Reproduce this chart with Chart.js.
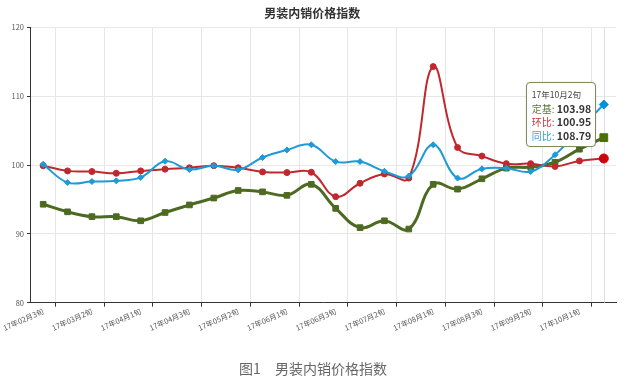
<!DOCTYPE html>
<html>
<head>
<meta charset="utf-8">
<script src="https://cdn.jsdelivr.net/npm/chart.js@4/dist/chart.umd.min.js"></script>
<style>
html,body{margin:0;padding:0;background:#fff;}
#wrap{position:relative;width:626px;height:381px;overflow:hidden;background:#fff;}
#c{position:absolute;left:0;top:0;}
#cap{position:absolute;left:0;width:626px;top:359px;text-align:center;font-family:"Noto Sans CJK SC",sans-serif;font-size:14px;line-height:18px;color:#666;}
#tip{position:absolute;display:none;background:#fff;border:1.5px solid #7d8c58;border-radius:4px;padding:5px 4px 5px 5px;font-family:"Noto Sans CJK SC",sans-serif;white-space:nowrap;box-shadow:0 0 2px rgba(0,0,0,0.12);}
#tip .tt{font-size:8.5px;line-height:13px;color:#444;}
#tip .row{line-height:11.5px;}
#tip .row span{font-size:10px;}
#tip .row b{font-size:10.5px;font-weight:bold;color:#333;}
</style>
</head>
<body>
<div id="wrap">
  <canvas id="c" width="626" height="381"></canvas>
  <div id="cap">图1　男装内销价格指数</div>
  <div id="tip"></div>
</div>
<script>
// ---- data ----
const chartTitle = '男装内销价格指数';
const categories = ['17年02月3旬','17年03月1旬','17年03月2旬','17年03月3旬','17年04月1旬','17年04月2旬',
  '17年04月3旬','17年05月1旬','17年05月2旬','17年05月3旬','17年06月1旬','17年06月2旬',
  '17年06月3旬','17年07月1旬','17年07月2旬','17年07月3旬','17年08月1旬','17年08月2旬',
  '17年08月3旬','17年09月1旬','17年09月2旬','17年09月3旬','17年10月1旬','17年10月2旬'];
const seriesNames = ['定基','环比','同比'];
const dingji = [94.3, 93.2, 92.5, 92.5, 91.9, 93.1, 94.2, 95.2, 96.3, 96.1, 95.6, 97.2,
  93.7, 90.9, 91.9, 90.7, 97.2, 96.5, 98.0, 99.55, 99.7, 100.4, 102.3, 103.98];
const huanbi = [99.9, 99.15, 99.05, 98.8, 99.15, 99.4, 99.6, 99.9, 99.6, 99.0, 98.9, 98.95,
  95.4, 97.35, 98.7, 98.1, 114.3, 102.55, 101.3, 100.2, 100.2, 99.8, 100.6, 100.95];
const tongbi = [100.1, 97.45, 97.6, 97.7, 98.2, 100.55, 99.35, 99.9, 99.3, 101.1, 102.2, 102.95,
  100.5, 100.5, 99.1, 98.4, 102.95, 98.1, 99.45, 99.55, 99.05, 101.5, 105.2, 108.79];
const yMin = 80, yMax = 120, yStep = 10;

// ---- style ----
const F = '"Noto Sans CJK SC", "Noto Sans", sans-serif';
const GREEN = '#4e6a22', RED = '#c0282e', BLUE = '#1e9ad6';
const lastIdx = categories.length - 1;

function externalTooltip(context) {
  const {chart, tooltip} = context;
  const el = document.getElementById('tip');
  if (tooltip.opacity === 0 || !tooltip.dataPoints || !tooltip.dataPoints.length) {
    el.style.display = 'none';
    return;
  }
  const i = tooltip.dataPoints[0].dataIndex;
  let html = '<div class="tt">' + categories[i] + '</div>';
  chart.data.datasets.forEach(ds => {
    html += '<div class="row"><span style="color:' + ds.labelColor + '">' + ds.label +
      ': </span><b>' + ds.data[i].toFixed(2) + '</b></div>';
  });
  el.innerHTML = html;
  el.style.display = 'block';
  const w = el.offsetWidth;
  el.style.left = (chart.canvas.offsetLeft + tooltip.caretX - 8 - w) + 'px';
  el.style.top = (chart.canvas.offsetTop + tooltip.caretY - 52) + 'px';
}

const pointerLine = {
  id: 'pointerLine',
  beforeDatasetsDraw(chart) {
    const act = chart.getActiveElements();
    if (!act.length) return;
    const x = Math.round(act[0].element.x) + 0.5;
    const {top, bottom} = chart.chartArea;
    const c = chart.ctx;
    c.save();
    c.strokeStyle = '#dedede';
    c.lineWidth = 1;
    c.beginPath();
    c.moveTo(x, top);
    c.lineTo(x, bottom);
    c.stroke();
    c.restore();
  }
};

const radius = (normal, big) => (c) => c.dataIndex === lastIdx ? big : normal;

const chart = new Chart(document.getElementById('c'), {
  type: 'line',
  data: {
    labels: categories,
    datasets: [
      {label: seriesNames[0], data: dingji, borderColor: GREEN, backgroundColor: GREEN, labelColor: '#5b7530',
       borderWidth: 3, pointStyle: 'rect', pointRadius: radius(4, 5.5), pointHoverRadius: radius(4, 5.5),
       pointBorderWidth: 1, pointHoverBorderWidth: 1, tension: 0.4, order: 2},
      {label: seriesNames[1], data: huanbi, borderColor: RED, backgroundColor: RED, labelColor: '#c23a40',
       borderWidth: 2, pointStyle: 'circle', pointRadius: radius(3, 4.5), pointHoverRadius: radius(3, 4.5),
       pointBorderWidth: 1, pointHoverBorderWidth: 1, tension: 0.4, order: 1},
      {label: seriesNames[2], data: tongbi, borderColor: BLUE, backgroundColor: BLUE, labelColor: '#3a9fd6',
       borderWidth: 2, pointStyle: 'rectRot', pointRadius: radius(3, 4.5), pointHoverRadius: radius(3, 4.5),
       pointBorderWidth: 1, pointHoverBorderWidth: 1, tension: 0.4, order: 0}
    ]
  },
  options: {
    responsive: false,
    animation: false,
    events: [],
    layout: {padding: {left: 8.5, right: 10, top: 0, bottom: 48.5}},
    plugins: {
      legend: {display: false},
      title: {display: true, text: chartTitle, color: '#333',
        font: {size: 12, weight: 'bold', family: F}, padding: {top: 6, bottom: 7}},
      tooltip: {enabled: false, external: externalTooltip, mode: 'index', intersect: false}
    },
    scales: {
      x: {
        offset: true,
        grid: {
          offset: true,
          color: c => (c.index !== undefined && c.index % 2 === 1) ? '#e6e6e6' : 'rgba(0,0,0,0)',
          tickColor: c => (c.index !== undefined && c.index % 2 === 1) ? '#333' : 'rgba(0,0,0,0)',
          tickLength: 4
        },
        border: {color: '#333', width: 1},
        ticks: {
          autoSkip: false, minRotation: 24, maxRotation: 24, padding: 0,
          color: '#555', font: {size: 7.5, family: F},
          callback: (v, i) => (i % 2 === 0 ? categories[i] : '')
        }
      },
      y: {
        min: yMin, max: yMax,
        grid: {color: '#e8e8e8', tickColor: '#333', tickLength: 4},
        border: {color: '#333', width: 1},
        ticks: {stepSize: yStep, padding: 3, color: '#555', font: {size: 7.5, family: F}}
      }
    }
  },
  plugins: [pointerLine]
});

const act = chart.data.datasets.map((d, k) => ({datasetIndex: k, index: lastIdx}));
chart.setActiveElements(act);
chart.tooltip.setActiveElements(act, {x: 0, y: 0});
chart.render();
</script>
</body>
</html>
